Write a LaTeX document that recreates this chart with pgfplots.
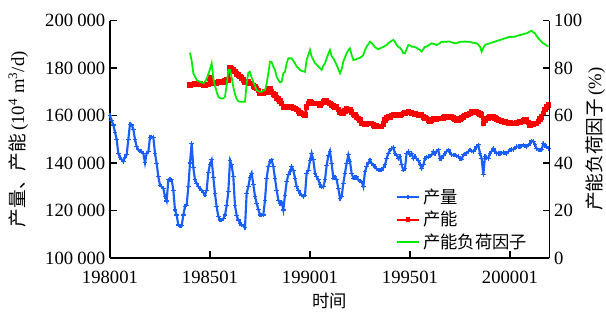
\documentclass[border=0pt]{standalone}
\usepackage{pgfplots}
\pgfplotsset{compat=1.18}
\usepackage{fontspec}
\setmainfont{Liberation Serif}
\newfontfamily\cjk{Noto Sans CJK SC}
\definecolor{cblue}{RGB}{25,95,255}
\definecolor{cred}{RGB}{255,0,0}
\definecolor{cgreen}{RGB}{0,235,0}
\begin{document}
\begin{tikzpicture}
\path[use as bounding box] (-82.5pt,-46.5pt) rectangle (372pt,193.5pt);
\pgfplotsset{
 common/.style={
   scale only axis, width=329.6pt, height=178.1pt,
   xmin=0, xmax=263.7,
   axis line style={line width=1pt},
   tick style={line width=0.8pt, black},
   major tick length=5pt,
   tick align=inside,
   ticklabel style={font=\fontsize{14}{16}\selectfont},
   /pgf/number format/assume math mode=true,
   clip=false,
 }}
\begin{axis}[common,
  axis x line*=bottom, axis y line*=left,
  ymin=100000, ymax=200000,
  ytick={100000,120000,140000,160000,180000,200000},
  yticklabel style={/pgf/number format/fixed, /pgf/number format/precision=0, /pgf/number format/1000 sep={\hspace{0.22em}}},
  scaled y ticks=false,
  xtick={0,60,120,180,240},
  xticklabels={198001,198501,199001,199501,200001},
  xticklabel style={yshift=-6.5pt},
  xlabel={\cjk 时间},
  xlabel style={at={(axis description cs:0.5,-0.18)}, anchor=center, font=\fontsize{13}{15}\selectfont},
  ylabel={{\cjk 产量、产能}\,(10\textsuperscript{4} m\textsuperscript{3}/d)},
  ylabel style={at={(axis description cs:-0.209,0.5)}, anchor=center, font=\fontsize{14}{16}\selectfont},
]
\addplot[cblue, line width=1.6pt, mark=+, mark size=1.7pt, mark options={line width=0.8pt}] coordinates {
(0,160000)(1,158000)(2,156000)(3,153000)(4,150000)(5,144000)(6,142400)(7,141500)(8,140600)(9,142500)
(10,143400)(11,150000)(12,156400)(13,156000)(14,154200)(15,150000)(16,146900)(17,145500)(18,145000)(19,144800)
(20,144000)(21,140100)(22,144100)(23,144800)(24,150800)(25,151000)(26,150800)(27,144100)(28,139900)(29,134200)
(30,130700)(31,130000)(32,129300)(33,125800)(34,124000)(35,132900)(36,133000)(37,132900)(38,128600)(39,120200)
(40,118100)(41,113900)(42,113500)(43,113500)(44,118100)(45,121600)(46,122300)(47,130000)(48,140000)(49,148300)
(50,138000)(51,132900)(52,131500)(53,130000)(54,129300)(55,128600)(56,127500)(57,126500)(58,128600)(59,136000)
(60,139500)(61,141300)(62,134000)(63,127000)(64,121500)(65,117500)(66,116000)(67,116000)(68,116500)(69,118100)
(70,122000)(71,128000)(72,141000)(73,139200)(74,134200)(75,122000)(76,118000)(77,116000)(78,114600)(79,114000)
(80,113500)(81,112800)(82,127300)(83,130000)(84,134000)(85,135700)(86,131000)(87,126000)(88,123000)(89,120500)
(90,118100)(91,118100)(92,118100)(93,124400)(94,133600)(95,138500)(96,140500)(97,141300)(98,138500)(99,133600)
(100,128600)(101,124400)(102,123000)(103,123500)(104,120200)(105,126500)(106,132100)(107,135000)(108,136500)(109,138500)
(110,137000)(111,133600)(112,130000)(113,128500)(114,127300)(115,126500)(116,125800)(117,126500)(118,135700)(119,137000)
(120,141000)(121,144100)(122,141300)(123,135700)(124,134200)(125,132900)(126,131000)(127,129800)(128,130000)(129,132900)
(130,139000)(131,143000)(132,145000)(133,139900)(134,133600)(135,134200)(136,132900)(137,129300)(138,125100)(139,125800)
(140,131500)(141,135700)(142,139900)(143,143400)(144,140600)(145,135700)(146,133600)(147,134000)(148,134200)(149,132900)
(150,132500)(151,132100)(152,130000)(153,136300)(154,138500)(155,140000)(156,141300)(157,139900)(158,139000)(159,138500)
(160,137500)(161,137000)(162,137000)(163,137000)(164,138000)(165,139200)(166,142000)(167,144100)(168,145500)(169,146000)
(170,146600)(171,144100)(172,143400)(173,142000)(174,142700)(175,139200)(176,137000)(177,137700)(178,144100)(179,144800)
(180,143400)(181,144100)(182,142000)(183,142700)(184,141800)(185,141000)(186,139500)(187,137700)(188,139200)(189,142000)
(190,142300)(191,142700)(192,143000)(193,143400)(194,144800)(195,144100)(196,145000)(197,145500)(198,142000)(199,142000)
(200,143000)(201,144100)(202,145000)(203,145500)(204,144500)(205,143400)(206,143400)(207,143400)(208,143000)(209,142700)
(210,142000)(211,141600)(212,143400)(213,143800)(214,144100)(215,144800)(216,145500)(217,145000)(218,144800)(219,145800)
(220,146900)(221,147600)(222,144100)(223,142000)(224,135000)(225,142700)(226,142300)(227,142000)(228,144100)(229,145000)
(230,146200)(231,145000)(232,144100)(233,144100)(234,144100)(235,144300)(236,144400)(237,144200)(238,144100)(239,144800)
(240,145500)(241,145600)(242,145800)(243,146300)(244,146900)(245,146900)(246,146900)(247,147200)(248,147600)(249,147200)
(250,146900)(251,147600)(252,148300)(253,149300)(254,149000)(255,147600)(256,146200)(257,145500)(258,145500)(259,145500)
(260,148300)(261,147200)(262,146900)(263,146200)};
\addplot[cred, line width=2pt, mark=square*, mark size=1.1pt] coordinates {
(48,172800)(49,173000)(50,173000)(51,173200)(52,173200)(53,173500)(54,173500)(55,173000)(56,172800)(57,172800)
(58,173000)(59,173000)(60,175700)(61,173500)(62,173500)(63,173500)(64,173800)(65,174000)(66,174200)(67,174200)
(68,174200)(69,174500)(70,174900)(71,175000)(72,179900)(73,179500)(74,179200)(75,178500)(76,177500)(77,177000)
(78,176500)(79,175700)(80,175000)(81,174200)(82,174200)(83,174000)(84,173500)(85,173500)(86,172500)(87,172000)
(88,171400)(89,170500)(90,169300)(91,169300)(92,169300)(93,170000)(94,170000)(95,171400)(96,171400)(97,170000)
(98,169000)(99,168600)(100,167500)(101,167000)(102,166000)(103,165000)(104,163700)(105,163700)(106,163700)(107,163700)
(108,163700)(109,163500)(110,163200)(111,163000)(112,162500)(113,162000)(114,161000)(115,160900)(116,160500)(117,160200)
(118,163700)(119,165000)(120,165800)(121,165500)(122,165000)(123,165000)(124,165000)(125,165000)(126,164400)(127,165000)
(128,165800)(129,166300)(130,166000)(131,165500)(132,165000)(133,164400)(134,164000)(135,163700)(136,163700)(137,162500)
(138,161500)(139,161000)(140,160900)(141,162000)(142,163000)(143,162500)(144,162300)(145,161500)(146,160500)(147,160200)
(148,159500)(149,158800)(150,158000)(151,156700)(152,156700)(153,156500)(154,156500)(155,156700)(156,156700)(157,156700)
(158,156000)(159,155500)(160,155500)(161,155300)(162,155300)(163,155300)(164,156500)(165,158000)(166,159000)(167,159500)
(168,159500)(169,160000)(170,160200)(171,160200)(172,160200)(173,160000)(174,160200)(175,160500)(176,160800)(177,161000)
(178,161300)(179,161600)(180,161200)(181,161000)(182,160900)(183,160700)(184,160500)(185,160300)(186,160200)(187,160200)
(188,159500)(189,159000)(190,158800)(191,158000)(192,157400)(193,158000)(194,158800)(195,158800)(196,158500)(197,158800)
(198,158800)(199,158800)(200,159000)(201,159500)(202,159500)(203,159500)(204,159500)(205,159300)(206,159000)(207,158500)
(208,158100)(209,158100)(210,158500)(211,159000)(212,159500)(213,160000)(214,160200)(215,160500)(216,160900)(217,161600)
(218,161600)(219,161600)(220,161600)(221,161000)(222,160600)(223,160200)(224,156700)(225,158000)(226,158800)(227,159000)
(228,159300)(229,159500)(230,159500)(231,159000)(232,158600)(233,158100)(234,157900)(235,157600)(236,157400)(237,157200)
(238,157000)(239,156900)(240,156800)(241,156700)(242,156700)(243,156700)(244,156800)(245,157000)(246,157200)(247,157400)
(248,157600)(249,158100)(250,158100)(251,157000)(252,156000)(253,156300)(254,156500)(255,156700)(256,156700)(257,157500)
(258,158500)(259,159500)(260,160900)(261,162500)(262,163700)(263,164400)};
\end{axis}
\begin{axis}[common,
  axis x line=none, axis y line*=right,
  ymin=0, ymax=100, ytick={0,20,40,60,80,100},
  ylabel={{\cjk 产能负荷因子}\,(\%)},
  ylabel style={at={(axis description cs:1.104,0.5)}, anchor=center, font=\fontsize{14}{16}\selectfont},
  legend style={at={(axis description cs:0.64,0.315)}, anchor=north west, draw=none, fill=none,
     font=\cjk\fontsize{13}{15}\selectfont, row sep=0.5pt},
  legend cell align=left,
]
\addlegendimage{cblue, line width=1.6pt, mark=+, mark size=1.7pt, mark options={line width=0.8pt}}
\addlegendentry{产量}
\addlegendimage{cred, line width=1.4pt, mark=square*, mark size=1pt}
\addlegendentry{产能}
\addlegendimage{cgreen, line width=1.4pt}
\addlegendentry{产能负荷因子}
\addplot[cgreen, line width=1.3pt, forget plot] coordinates {
(48,86.5)(49,83)(50,77.8)(51,76.5)(52,75.0)(53,74.5)(54,74.2)(55,74.0)(56,73.6)(57,74.2)
(58,75.5)(59,77.5)(60,79.5)(61,82.0)(62,75.7)(63,72.5)(64,70.0)(65,67.9)(66,67.3)(67,67.2)
(68,67.2)(69,67.9)(70,73.0)(71,79.2)(72,79.2)(73,76.0)(74,72.0)(75,69.0)(76,67.0)(77,66.0)
(78,65.8)(79,65.8)(80,65.8)(81,65.8)(82,73.6)(83,78.0)(84,78.4)(85,76.0)(86,74.2)(87,72.5)
(88,70.7)(89,70.2)(90,70.0)(91,70.0)(92,70.5)(93,70.7)(94,73.5)(95,77.8)(96,82.7)(97,82.5)
(98,80.5)(99,79.2)(100,76.3)(101,75.0)(102,74.0)(103,74.2)(104,77.8)(105,78.4)(106,82.0)(107,84.1)
(108,84.1)(109,84.1)(110,83.0)(111,82.0)(112,80.6)(113,80.0)(114,79.2)(115,78.8)(116,78.6)(117,78.4)
(118,83.4)(119,85.5)(120,87.6)(121,84.8)(122,83.5)(123,82.0)(124,81.5)(125,80.6)(126,80.0)(127,79.2)
(128,81.0)(129,82.0)(130,84.0)(131,86.0)(132,87.6)(133,85.0)(134,84.1)(135,82.7)(136,81.3)(137,79.5)
(138,77.8)(139,79.5)(140,82.7)(141,84.5)(142,86.2)(143,87.5)(144,88.3)(145,85.5)(146,83.4)(147,83.5)
(148,83.8)(149,84.1)(150,84.3)(151,84.8)(152,85.5)(153,87.6)(154,89.0)(155,90.0)(156,91.1)(157,90.5)
(158,89.7)(159,88.8)(160,88.3)(161,87.9)(162,88.3)(163,88.6)(164,88.9)(165,89.3)(166,89.7)(167,90.4)
(168,91.0)(169,91.5)(170,91.8)(171,91.0)(172,89.7)(173,88.9)(174,88.5)(175,87.6)(176,86.2)(177,86.2)
(178,88.0)(179,89.7)(180,89.5)(181,89.0)(182,89.0)(183,88.8)(184,88.5)(185,88.0)(186,87.6)(187,86.9)
(188,88.0)(189,88.9)(190,89.0)(191,89.5)(192,90.0)(193,90.4)(194,90.2)(195,90.0)(196,89.7)(197,90.0)
(198,90.5)(199,91.1)(200,91.0)(201,91.1)(202,91.0)(203,91.2)(204,91.1)(205,90.8)(206,90.6)(207,90.4)
(208,90.4)(209,90.8)(210,91.0)(211,91.1)(212,91.0)(213,91.2)(214,91.0)(215,91.1)(216,91.1)(217,90.8)
(218,90.6)(219,90.5)(220,90.4)(221,89.8)(222,89.0)(223,86.9)(224,88.5)(225,89.7)(226,90.0)(227,90.2)
(228,90.4)(229,90.7)(230,90.9)(231,91.1)(232,91.4)(233,91.6)(234,91.8)(235,92.0)(236,92.3)(237,92.5)
(238,92.7)(239,93.0)(240,93.2)(241,93.0)(242,93.2)(243,93.2)(244,93.5)(245,93.7)(246,93.9)(247,94.0)
(248,94.3)(249,94.5)(250,94.6)(251,95.0)(252,95.4)(253,95.7)(254,95.0)(255,94.6)(256,93.5)(257,92.5)
(258,91.8)(259,91.0)(260,90.4)(261,90.0)(262,89.5)(263,89.0)};
\end{axis}
\end{tikzpicture}
\end{document}
